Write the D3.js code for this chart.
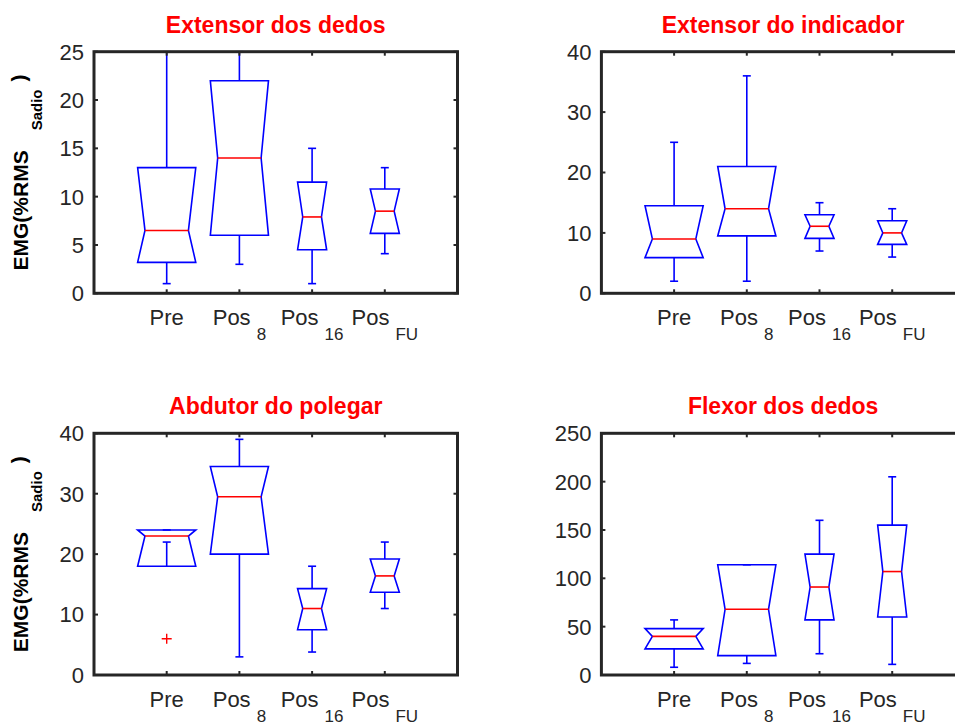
<!DOCTYPE html>
<html>
<head>
<meta charset="utf-8">
<script src="https://cdn.jsdelivr.net/npm/d3@7"></script>
<style>
  body { margin: 0; background: #fff; }
  svg { display: block; font-family: "Liberation Sans", Arial, Helvetica, sans-serif; }
  .tick_label { fill: #262626; font-size: 22px; }
  .title { fill: #ff0000; font-size: 23px; font-weight: bold; }
  .ylabel { fill: #000; font-size: 21px; font-weight: bold; }
</style>
</head>
<body>
<svg id="chart" width="955" height="722"></svg>
<script>
// categories on the x axis (main text + subscript)
const cat_main = ["Pre", "Pos", "Pos", "Pos"]
const cat_sub = ["", "8", "16", "FU"]
const box_widths = [0.8, 0.8, 0.4, 0.4]

// each row: [whisker low, q1, median, q3, whisker high]
const extensor_dedos = [[1, 3.2, 6.5, 13, 25], [3, 6, 14, 22, 25], [1, 4.5, 7.9, 11.5, 15], [4.1, 6.2, 8.5, 10.8, 13]]
const extensor_indicador = [[2, 5.9, 9, 14.5, 25], [2, 9.5, 14, 21, 36], [7, 9.1, 11.1, 13, 15], [6, 8.1, 10, 12, 14]]
const abdutor_polegar = [[22, 18, 23, 24, 24], [3, 20, 29.5, 34.5, 39], [3.8, 7.5, 11, 14.3, 18], [11, 13.7, 16.4, 19.2, 22]]
const flexor_dedos = [[8, 27, 40, 48, 57], [12, 20, 68, 114, 114], [22, 57, 91, 125, 160], [11, 60, 107, 155, 205]]

// outliers: [category index, value]
const abdutor_outliers = [[0, 6]]

const titles = ["Extensor dos dedos", "Extensor do indicador", "Abdutor do polegar", "Flexor dos dedos"]
const y_max = [25, 40, 40, 250]
const y_ticks = [[0, 5, 10, 15, 20, 25], [0, 10, 20, 30, 40], [0, 10, 20, 30, 40], [0, 50, 100, 150, 200, 250]]

const svg = d3.select("#chart")

const ax_w = 363.5
const col_x = [94, 601.4]
const row_y = [[51.7, 293.3], [433.3, 675]]

const panels = [
	{ data: extensor_dedos, outliers: [], col: 0, row: 0, ylabel: true },
	{ data: extensor_indicador, outliers: [], col: 1, row: 0, ylabel: false },
	{ data: abdutor_polegar, outliers: abdutor_outliers, col: 0, row: 1, ylabel: true },
	{ data: flexor_dedos, outliers: [], col: 1, row: 1, ylabel: false }
]

panels.forEach((p, pi) => {
	let x0 = col_x[p.col]
	let top = row_y[p.row][0], bottom = row_y[p.row][1]

	let x = d3.scaleLinear().domain([0, 5]).range([x0, x0 + ax_w])
	let y = d3.scaleLinear().domain([0, y_max[pi]]).range([bottom, top])

	let g = svg.append("g").classed("panel", true)

	// boxes
	let boxes = g.selectAll("g.box").data(p.data).enter().append("g").classed("box", true)

	boxes.each(function(d, i) {
		let bg = d3.select(this)
		let cx = x(i + 1)
		let hw = (x(box_widths[i]) - x(0)) / 2
		let inset = 3 + hw * 0.15
		let [lo, q1, med, q3, hi] = d
		let cap = 4

		// whiskers
		bg.append("line").attr("x1", cx).attr("x2", cx).attr("y1", y(q3)).attr("y2", y(hi))
			.attr("stroke", "#0000ff").attr("stroke-width", 1.6)
		bg.append("line").attr("x1", cx).attr("x2", cx).attr("y1", y(q1)).attr("y2", y(lo))
			.attr("stroke", "#0000ff").attr("stroke-width", 1.6)
		bg.append("line").attr("x1", cx - cap).attr("x2", cx + cap).attr("y1", y(hi)).attr("y2", y(hi))
			.attr("stroke", "#0000ff").attr("stroke-width", 1.6)
		bg.append("line").attr("x1", cx - cap).attr("x2", cx + cap).attr("y1", y(lo)).attr("y2", y(lo))
			.attr("stroke", "#0000ff").attr("stroke-width", 1.6)

		// notched box (notch clipped to the box)
		let pts = [
			[cx - hw, y(q1)], [cx - hw + inset, y(med)], [cx - hw, y(q3)],
			[cx + hw, y(q3)], [cx + hw - inset, y(med)], [cx + hw, y(q1)]
		]
		bg.append("path").attr("d", d3.line()(pts) + "Z")
			.attr("fill", "none").attr("stroke", "#0000ff").attr("stroke-width", 1.6)

		// median
		bg.append("line").attr("x1", cx - hw + inset).attr("x2", cx + hw - inset)
			.attr("y1", y(med)).attr("y2", y(med))
			.attr("stroke", "#ff0000").attr("stroke-width", 1.6)
	})

	// outliers
	g.selectAll("path.outlier").data(p.outliers).enter().append("path")
		.classed("outlier", true)
		.attr("d", (d) => {
			let cx = x(d[0] + 1), cy = y(d[1]), s = 5
			return `M${cx - s},${cy}H${cx + s}M${cx},${cy - s}V${cy + s}`
		})
		.attr("stroke", "#ff0000").attr("stroke-width", 1.4).attr("fill", "none")

	// frame
	let frame_right = x(5)
	g.append("rect").attr("x", x0).attr("y", top).attr("width", frame_right - x0).attr("height", bottom - top)
		.attr("fill", "none").attr("stroke", "#262626").attr("stroke-width", 3)

	// y ticks inside both sides
	y_ticks[pi].forEach((t) => {
		g.append("line").attr("x1", x0).attr("x2", x0 + 4).attr("y1", y(t)).attr("y2", y(t))
			.attr("stroke", "#262626").attr("stroke-width", 2)
		g.append("line").attr("x1", frame_right).attr("x2", frame_right - 4).attr("y1", y(t)).attr("y2", y(t))
			.attr("stroke", "#262626").attr("stroke-width", 2)
	})
	g.selectAll("text.ytick").data(y_ticks[pi]).enter().append("text")
		.classed("tick_label", true)
		.attr("text-anchor", "end")
		.attr("x", x0 - 10)
		.attr("y", (d) => y(d))
		.attr("dy", "0.36em")
		.text((d) => d)

	// x ticks top and bottom
	cat_main.forEach((c, i) => {
		g.append("line").attr("x1", x(i + 1)).attr("x2", x(i + 1)).attr("y1", bottom).attr("y2", bottom - 4)
			.attr("stroke", "#262626").attr("stroke-width", 2)
		g.append("line").attr("x1", x(i + 1)).attr("x2", x(i + 1)).attr("y1", top).attr("y2", top + 4)
			.attr("stroke", "#262626").attr("stroke-width", 2)

		let t = g.append("text").classed("tick_label", true)
			.attr("text-anchor", "middle")
			.attr("x", x(i + 1))
			.attr("y", bottom + 32)
		t.append("tspan").text(c)
		if (cat_sub[i] != "") {
			t.append("tspan").attr("dx", 6).attr("dy", 15).style("font-size", "17px").text(cat_sub[i])
		}
	})

	// title
	g.append("text").classed("title", true)
		.attr("text-anchor", "middle")
		.attr("x", (x0 + frame_right) / 2)
		.attr("y", top - 19)
		.text(titles[pi])

	// y label
	if (p.ylabel) {
		let lab = g.append("text").classed("ylabel", true)
			.attr("text-anchor", "middle")
			.attr("transform", `translate(28,${(top + bottom) / 2}) rotate(-90)`)
		lab.append("tspan").text("EMG(%RMS")
		lab.append("tspan").attr("dx", 20).attr("dy", 14).style("font-size", "15px").text("Sadio")
		lab.append("tspan").attr("dx", 8).attr("dy", -16).text(")")
	}
})
</script>
</body>
</html>
